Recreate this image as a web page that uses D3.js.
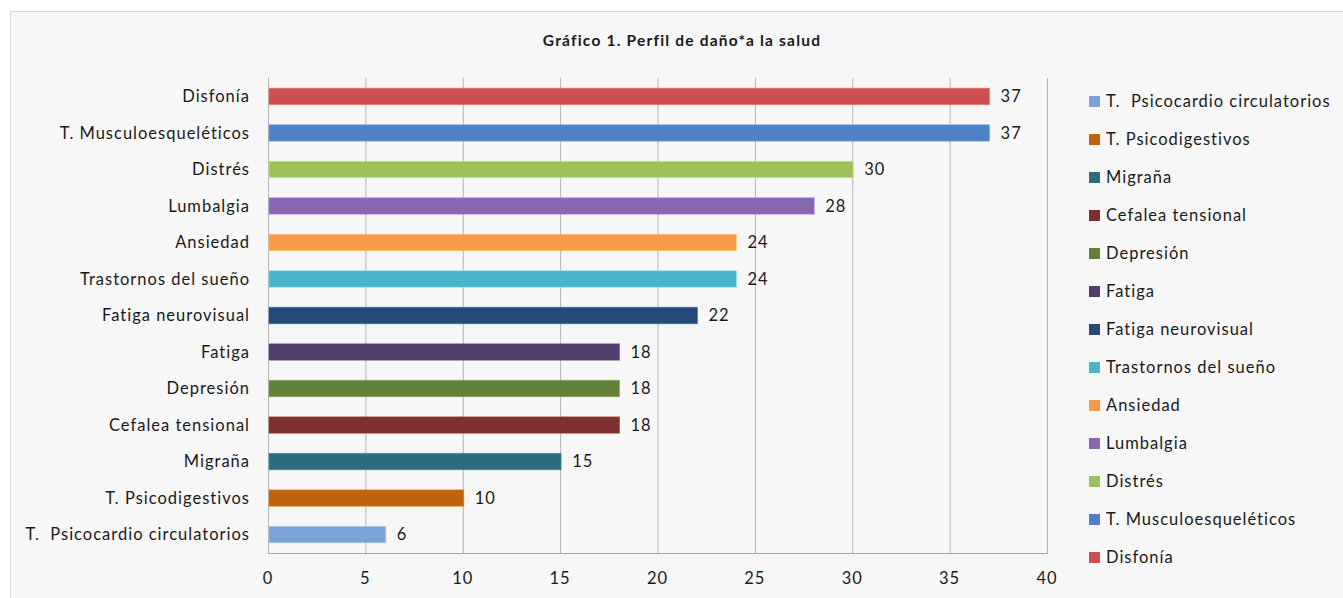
<!DOCTYPE html>
<html>
<head>
<meta charset="utf-8">
<script src="https://cdn.jsdelivr.net/npm/d3@7/dist/d3.min.js"></script>
<style>
  html, body { margin: 0; padding: 0; background: #ffffff; }
  text { font-family: Lato, "Open Sans", sans-serif; fill: #1a1a1a; white-space: pre; }
</style>
</head>
<body>
<svg id="chart" width="1343" height="598"></svg>
<script>
// categories from top to bottom, as drawn
var categories = [
  'Disfonía',
  'T. Musculoesqueléticos',
  'Distrés',
  'Lumbalgia',
  'Ansiedad',
  'Trastornos del sueño',
  'Fatiga neurovisual',
  'Fatiga',
  'Depresión',
  'Cefalea tensional',
  'Migraña',
  'T. Psicodigestivos',
  'T.  Psicocardio circulatorios'
];
var values = [37, 37, 30, 28, 24, 24, 22, 18, 18, 18, 15, 10, 6];
var colors = [
  '#cd4f4f', '#4f81c7', '#9dc15a', '#8767b0', '#f79a4a', '#4bb3cc', '#24497a',
  '#51406f', '#62803a', '#7e302f', '#2c6c7c', '#bf620f', '#7ba3d9'
];
var xTicks = [0, 5, 10, 15, 20, 25, 30, 35, 40];
var title = 'Gráfico 1. Perfil de daño*a la salud';

var svg = d3.select('#chart');

var margin = { left: 268, right: 1047, top: 78, bottom: 553 };

// chart frame
svg.append('rect')
  .attr('x', 10.5).attr('y', 11.5)
  .attr('width', 1340).attr('height', 600)
  .attr('fill', '#f7f7f7')
  .attr('stroke', '#d9d9d9');

svg.append('text')
  .attr('x', 682).attr('y', 46)
  .attr('text-anchor', 'middle')
  .style('font-weight', 'bold')
  .style('font-size', '15.5px')
  .style('letter-spacing', '1.2px')
  .text(title);

var x = d3.scaleLinear().domain([0, 40]).range([margin.left, margin.right]);
var y = d3.scaleBand().domain(categories).range([margin.top, margin.bottom]).paddingInner(0.55).paddingOuter(0.28);

// gridlines
svg.append('g').selectAll('line')
  .data(xTicks)
  .enter().append('line')
  .attr('x1', function(d) { return x(d) + 0.5; })
  .attr('x2', function(d) { return x(d) + 0.5; })
  .attr('y1', margin.top)
  .attr('y2', margin.bottom)
  .attr('stroke', '#b3b3b3')
  .attr('stroke-width', 1);

svg.append('line')
  .attr('x1', margin.left).attr('x2', margin.right + 1)
  .attr('y1', margin.bottom + 0.5).attr('y2', margin.bottom + 0.5)
  .attr('stroke', '#a6a6a6');

// bars
svg.append('g').selectAll('rect')
  .data(values)
  .enter().append('rect')
  .attr('x', x(0) + 1)
  .attr('y', function(d, i) { return y(categories[i]); })
  .attr('width', function(d) { return x(d) - x(0); })
  .attr('height', y.bandwidth())
  .attr('fill', function(d, i) { return colors[i]; })
  .attr('stroke', function(d, i) { return d3.color(colors[i]).brighter(0.8); })
  .attr('stroke-opacity', 0.5)
  .attr('stroke-width', 1);

// value labels
svg.append('g').selectAll('text')
  .data(values)
  .enter().append('text')
  .attr('x', function(d) { return x(d) + 12; })
  .attr('y', function(d, i) { return y(categories[i]) + y.bandwidth() / 2; })
  .attr('dy', '0.35em')
  .style('font-size', '16.5px')
  .style('letter-spacing', '1px')
  .text(function(d) { return d; });

// category labels
svg.append('g').selectAll('text')
  .data(categories)
  .enter().append('text')
  .attr('x', margin.left - 18)
  .attr('y', function(d) { return y(d) + y.bandwidth() / 2; })
  .attr('dy', '0.35em')
  .attr('text-anchor', 'end')
  .style('font-size', '16.5px')
  .style('letter-spacing', '1px')
  .text(function(d) { return d; });

// x tick labels
svg.append('g').selectAll('text')
  .data(xTicks)
  .enter().append('text')
  .attr('x', function(d) { return x(d); })
  .attr('y', 578)
  .attr('dy', '0.35em')
  .attr('text-anchor', 'middle')
  .style('font-size', '16.5px')
  .style('letter-spacing', '1px')
  .text(function(d) { return d; });

// legend, reversed order
var legendItems = categories.slice().reverse();
var legendColors = colors.slice().reverse();
var legend = svg.append('g').selectAll('g')
  .data(legendItems)
  .enter().append('g')
  .attr('transform', function(d, i) { return 'translate(1089,' + (101 + i * 38) + ')'; });

legend.append('rect')
  .attr('x', 0).attr('y', -5)
  .attr('width', 11).attr('height', 11)
  .attr('fill', function(d, i) { return legendColors[i]; });

legend.append('text')
  .attr('x', 17)
  .attr('dy', '0.35em')
  .style('font-size', '16.5px')
  .style('letter-spacing', '1px')
  .text(function(d) { return d; });
</script>
</body>
</html>
